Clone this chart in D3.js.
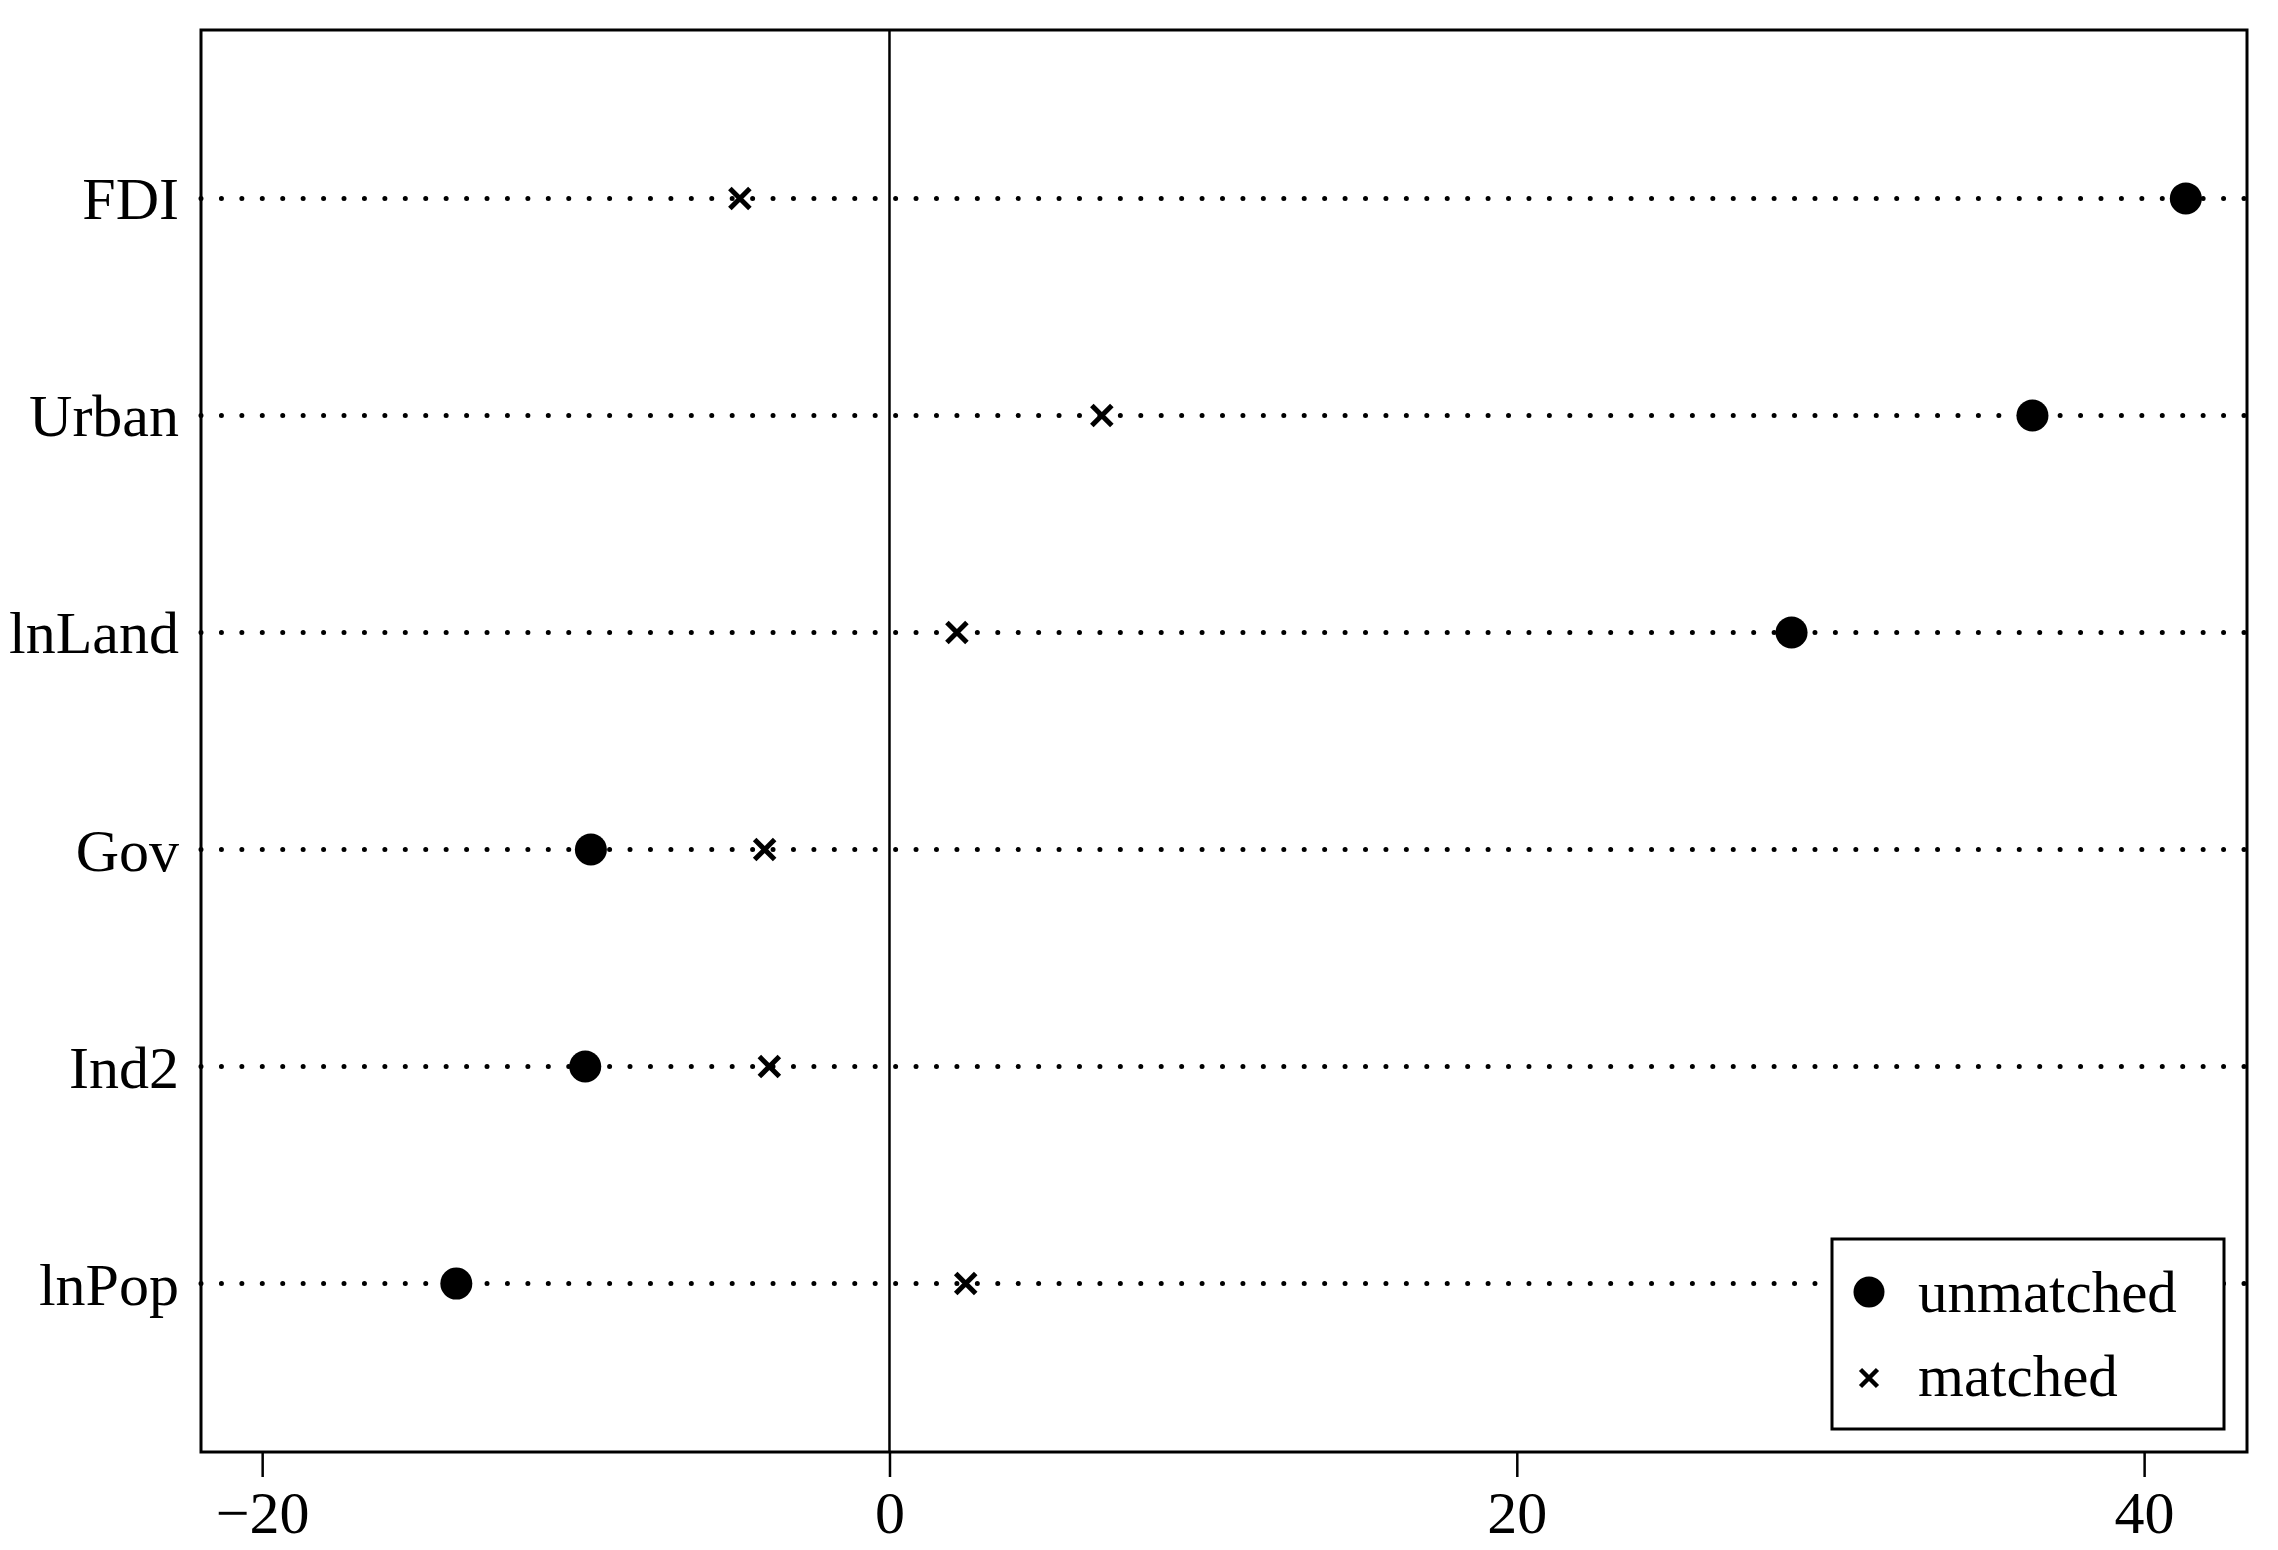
<!DOCTYPE html>
<html>
<head>
<meta charset="utf-8">
<script src="https://cdn.jsdelivr.net/npm/d3@7"></script>
<style>
  body { margin: 0; background: #fff; }
  text { font-family: "Liberation Serif", "Times New Roman", serif; fill: #000; }
</style>
</head>
<body>
<div id="chart"></div>
<script>
// Données
const variables = ["FDI", "Urban", "lnLand", "Gov", "Ind2", "lnPop"];
const unmatched = [41.33, 36.44, 28.76, -9.52, -9.70, -13.81];
const matched = [-4.77, 6.77, 2.15, -3.98, -3.83, 2.43];
const xTicks = [-20, 0, 20, 40];
const legendLabels = ["unmatched", "matched"];

const width = 2278;
const height = 1550;
const margin = { top: 30, right: 31, bottom: 98, left: 201 };
const innerW = width - margin.left - margin.right;
const innerH = height - margin.top - margin.bottom;

const svg = d3
  .select("#chart")
  .append("svg")
  .attr("width", width)
  .attr("height", height)
  .append("g")
  .attr("transform", `translate(${margin.left},${margin.top})`);

// Échelles
const x = d3.scaleLinear().domain([-21.95, 43.28]).range([0, innerW]);
const y = d3.scalePoint().domain(variables).range([0, innerH]).padding(0.776);

// Lignes pointillées
svg
  .selectAll("line.dots")
  .data(variables)
  .enter()
  .append("line")
  .attr("class", "dots")
  .attr("x1", 0)
  .attr("x2", innerW)
  .attr("y1", (d) => y(d))
  .attr("y2", (d) => y(d))
  .attr("stroke", "#000")
  .attr("stroke-width", 5)
  .attr("stroke-linecap", "round")
  .attr("stroke-dasharray", "0 20.43");

// Ligne verticale à zéro
svg
  .append("line")
  .attr("x1", x(0))
  .attr("x2", x(0))
  .attr("y1", 0)
  .attr("y2", innerH)
  .attr("stroke", "#000")
  .attr("stroke-width", 2.5);

// Cadre
svg
  .append("rect")
  .attr("x", 0)
  .attr("y", 0)
  .attr("width", innerW)
  .attr("height", innerH)
  .attr("fill", "none")
  .attr("stroke", "#000")
  .attr("stroke-width", 3);

// Axe X
const xAxis = svg
  .append("g")
  .attr("transform", `translate(0,${innerH})`)
  .call(d3.axisBottom(x).tickValues(xTicks).tickSize(25).tickSizeOuter(0).tickPadding(13));
xAxis.select(".domain").remove();
xAxis.selectAll(".tick line").attr("stroke", "#000").attr("stroke-width", 2.5);
xAxis
  .selectAll("text")
  .style("font-family", '"Liberation Serif", serif')
  .style("font-size", "60px")
  .attr("fill", "#000");

// Étiquettes Y
svg
  .selectAll("text.ylab")
  .data(variables)
  .enter()
  .append("text")
  .attr("class", "ylab")
  .attr("x", -22)
  .attr("y", (d) => y(d))
  .attr("dy", "0.35em")
  .attr("text-anchor", "end")
  .style("font-size", "60px")
  .text((d) => d);

// Croix
const cross = (g, cx, cy, s, w) => {
  g.append("path")
    .attr("d", `M${cx - s},${cy - s}L${cx + s},${cy + s}M${cx - s},${cy + s}L${cx + s},${cy - s}`)
    .attr("stroke", "#000")
    .attr("stroke-width", w)
    .attr("fill", "none");
};

// Points non appariés
svg
  .selectAll("circle.unmatched")
  .data(unmatched)
  .enter()
  .append("circle")
  .attr("class", "unmatched")
  .attr("cx", (d) => x(d))
  .attr("cy", (d, i) => y(variables[i]))
  .attr("r", 16)
  .attr("fill", "#000");

// Points appariés
matched.forEach((v, i) => cross(svg, x(v), y(variables[i]), 10, 5));

// Légende
const legend = svg.append("g").attr("transform", `translate(${1832 - margin.left},${1239 - margin.top})`);
legend
  .append("rect")
  .attr("width", 392)
  .attr("height", 190)
  .attr("fill", "#fff")
  .attr("stroke", "#000")
  .attr("stroke-width", 3);
legend.append("circle").attr("cx", 37).attr("cy", 53).attr("r", 15.5).attr("fill", "#000");
cross(legend, 37, 139, 8.5, 4.5);
legendLabels.forEach((lab, i) => {
  legend
    .append("text")
    .attr("x", 86)
    .attr("y", 73 + i * 84)
    .style("font-size", "59px")
    .text(lab);
});
</script>
</body>
</html>
